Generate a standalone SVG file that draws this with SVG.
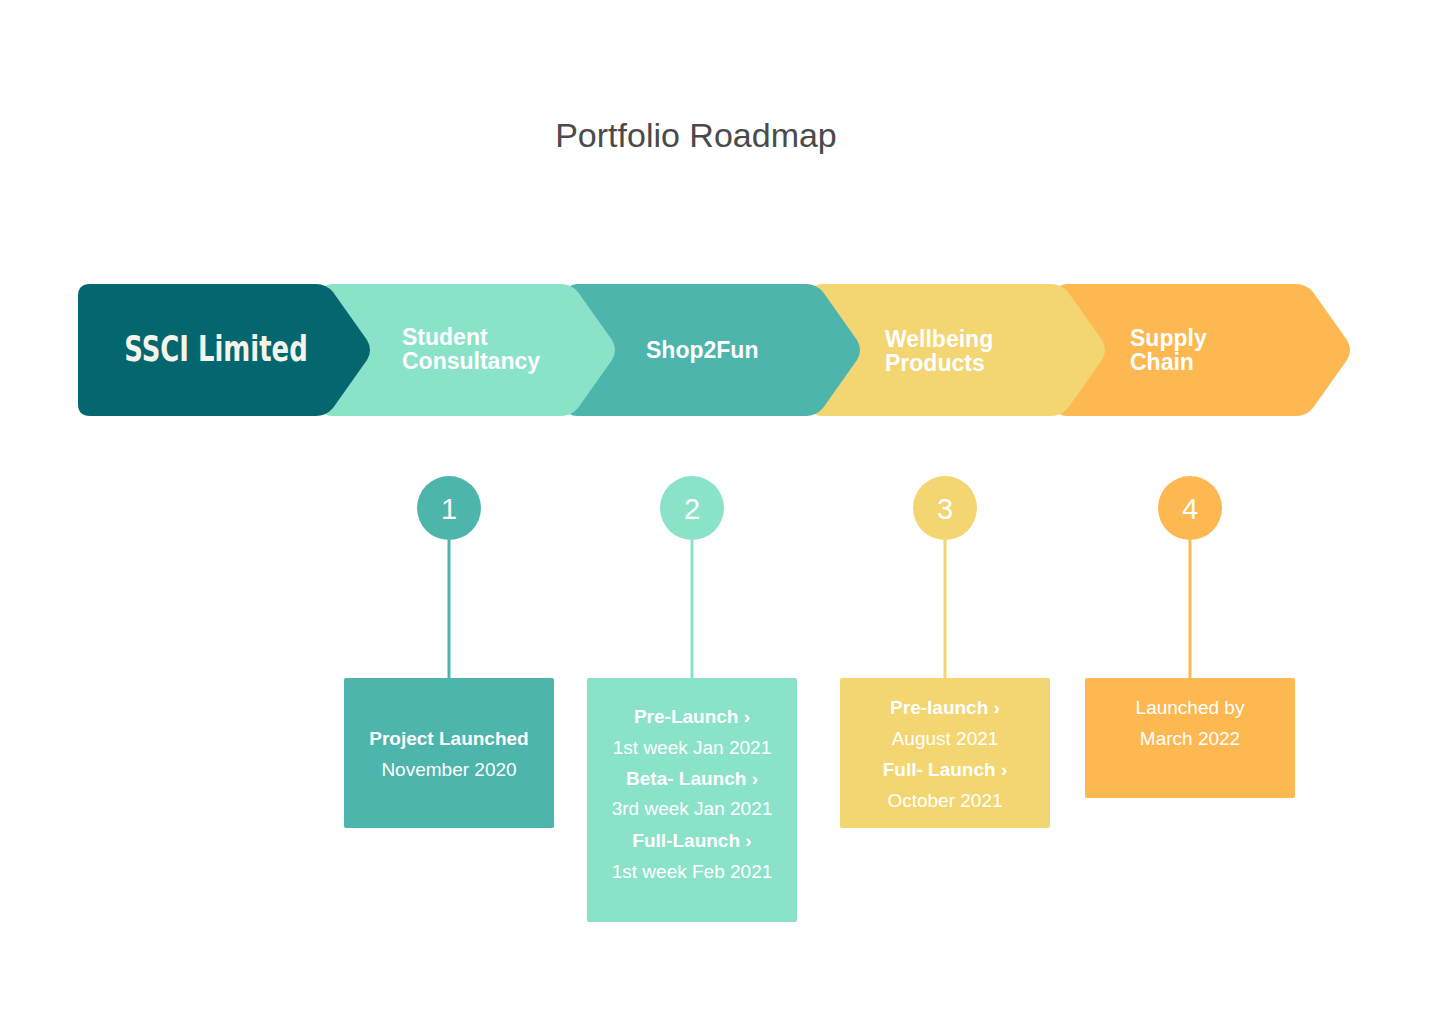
<svg xmlns="http://www.w3.org/2000/svg" width="1440" height="1024" viewBox="0 0 1440 1024">
<style>
text{font-family:"Liberation Sans",Arial,sans-serif;fill:#fff}
.t{font-size:34px;fill:#4a4a4a;text-anchor:middle}
.h{font-size:23px;font-weight:bold}
.c{font-size:29px;text-anchor:middle}
.b{font-size:19px;text-anchor:middle}
.bb{font-size:19px;text-anchor:middle;font-weight:bold}
</style>
<rect width="1440" height="1024" fill="#fff"/>
<text class="t" x="696" y="147">Portfolio Roadmap</text>
<g id="chevrons">
<g id="n5"><path fill="#FDB851" d="M1067,284 H1296 Q1306,284 1313,292 L1347,340 Q1353,350 1347,360 L1313,408 Q1306,416 1296,416 H1067 Q1057,416 1057,406 V294 Q1057,284 1067,284 Z"/><text class="h" x="1130" y="346">Supply</text><text class="h" x="1130" y="370">Chain</text></g>
<g id="n4"><path fill="#F3D671" d="M822,284 H1051 Q1061,284 1068,292 L1102,340 Q1108,350 1102,360 L1068,408 Q1061,416 1051,416 H822 Q812,416 812,406 V294 Q812,284 822,284 Z"/><text class="h" x="885" y="347">Wellbeing</text><text class="h" x="885" y="371">Products</text></g>
<g id="n3"><path fill="#4DB5AC" d="M577,284 H806 Q816,284 823,292 L857,340 Q863,350 857,360 L823,408 Q816,416 806,416 H577 Q567,416 567,406 V294 Q567,284 577,284 Z"/><text class="h" x="646" y="358">Shop2Fun</text></g>
<g id="n2"><path fill="#8AE3C9" d="M332,284 H561 Q571,284 578,292 L612,340 Q618,350 612,360 L578,408 Q571,416 561,416 H332 Q322,416 322,406 V294 Q322,284 332,284 Z"/><text class="h" x="402" y="345">Student</text><text class="h" x="402" y="369">Consultancy</text></g>
<g id="n1"><path fill="#04666F" d="M90,284 H316 Q326,284 333,292 L367,340 Q373,350 367,360 L333,408 Q326,416 316,416 H90 Q78,416 78,404 V296 Q78,284 90,284 Z"/><text x="216" y="361" text-anchor="middle" font-size="36" font-weight="bold" fill="#f4f4ea" transform="translate(216 0) scale(0.8 1) translate(-216 0)" style="font-family:'DejaVu Sans Condensed','Liberation Sans Narrow',sans-serif;fill:#f4f4ea">SSCI Limited</text></g>
</g>
<g id="connectors" stroke-width="3">
<line x1="449" y1="540" x2="449" y2="678" stroke="#4DB5AC"/>
<line x1="692" y1="540" x2="692" y2="678" stroke="#8AE3C9"/>
<line x1="945" y1="540" x2="945" y2="678" stroke="#F3D671"/>
<line x1="1190" y1="540" x2="1190" y2="678" stroke="#FDB851"/>
</g>
<g id="m1"><circle cx="449" cy="508" r="32" fill="#4DB5AC"/><text class="c" x="449" y="519">1</text></g>
<g id="m2"><circle cx="692" cy="508" r="32" fill="#8AE3C9"/><text class="c" x="692" y="519">2</text></g>
<g id="m3"><circle cx="945" cy="508" r="32" fill="#F3D671"/><text class="c" x="945" y="519">3</text></g>
<g id="m4"><circle cx="1190" cy="508" r="32" fill="#FDB851"/><text class="c" x="1190" y="519">4</text></g>
<g id="box1"><rect x="344" y="678" width="210" height="150" rx="2" fill="#4DB5AC"/><text class="bb" x="449" y="745">Project Launched</text><text class="b" x="449" y="776">November 2020</text></g>
<g id="box2"><rect x="587" y="678" width="210" height="244" rx="2" fill="#8AE3C9"/>
<text class="bb" x="692" y="723">Pre-Launch ›</text><text class="b" x="692" y="754">1st  week Jan 2021</text>
<text class="bb" x="692" y="785">Beta- Launch ›</text><text class="b" x="692" y="815">3rd week Jan 2021</text>
<text class="bb" x="692" y="847">Full-Launch ›</text><text class="b" x="692" y="878">1st week Feb 2021</text></g>
<g id="box3"><rect x="840" y="678" width="210" height="150" rx="2" fill="#F3D671"/>
<text class="bb" x="945" y="714">Pre-launch ›</text><text class="b" x="945" y="745">August 2021</text>
<text class="bb" x="945" y="776">Full- Launch ›</text><text class="b" x="945" y="807">October 2021</text></g>
<g id="box4"><rect x="1085" y="678" width="210" height="120" rx="2" fill="#FDB851"/>
<text class="b" x="1190" y="714">Launched by</text><text class="b" x="1190" y="745">March 2022</text></g>
</svg>
